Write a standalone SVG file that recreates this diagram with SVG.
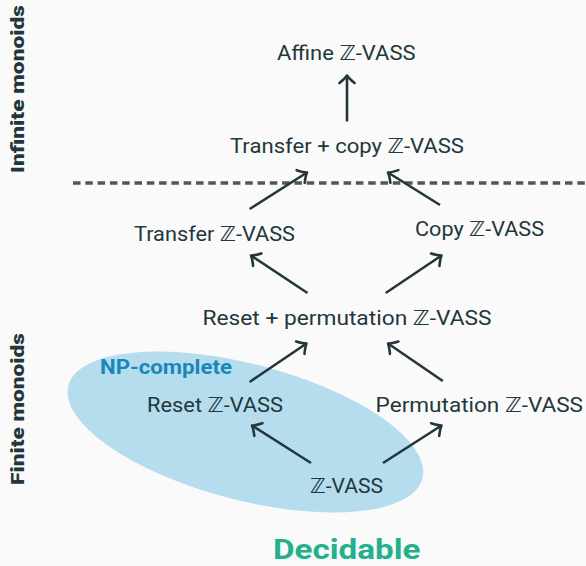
<svg xmlns="http://www.w3.org/2000/svg" width="586" height="566" viewBox="0 0 586 566">
<defs>
<style>
.n{font-family:Roboto,"DejaVu Sans",sans-serif;font-size:21px;fill:#23373b}
.side{font-family:Roboto,"DejaVu Sans",sans-serif;font-size:19px;font-weight:900;fill:#23373b}
.e{stroke:#23373b;stroke-width:2.6;fill:none;marker-end:url(#ah)}
</style>
<marker id="ah" markerUnits="userSpaceOnUse" viewBox="-10 -10 12 20" markerWidth="12" markerHeight="20" refX="0" refY="0" orient="auto">
<path d="M-7.5,-7.5 Q-3,-2 0,0 Q-3,2 -7.5,7.5" fill="none" stroke="#23373b" stroke-width="2.6" stroke-linecap="round" stroke-linejoin="round"/>
</marker>
</defs>
<rect width="586" height="566" fill="#fafafa"/>
<ellipse id="np-region" cx="245.4" cy="432" rx="183" ry="68" transform="rotate(14.7 245.4 432)" fill="#b5ddee"/>
<line x1="73" y1="183" x2="586" y2="183" stroke="#555" stroke-width="3.5" stroke-dasharray="7.5,4.8"/>
<g id="connectors">
<line class="e" x1="347" y1="121.5" x2="347" y2="75.5"/>
<line class="e" x1="249.6" y1="209" x2="307" y2="172.5"/>
<line class="e" x1="440" y1="205" x2="388" y2="172.5"/>
<line class="e" x1="307.5" y1="293" x2="251" y2="255.5"/>
<line class="e" x1="385.7" y1="293" x2="441.5" y2="255.5"/>
<line class="e" x1="249.6" y1="382" x2="306.5" y2="343.5"/>
<line class="e" x1="442.8" y1="381" x2="388" y2="343.5"/>
<line class="e" x1="311" y1="463" x2="252" y2="425.5"/>
<line class="e" x1="383" y1="463" x2="441.5" y2="425.5"/>
</g>
<g id="affine"><text class="n" x="277" y="60" textLength="138.5" lengthAdjust="spacingAndGlyphs">Affine ℤ-VASS</text></g>
<g id="transfer-copy"><text class="n" x="230" y="153" textLength="234" lengthAdjust="spacingAndGlyphs">Transfer + copy ℤ-VASS</text></g>
<g id="transfer"><text class="n" x="134" y="241" textLength="161" lengthAdjust="spacingAndGlyphs">Transfer ℤ-VASS</text></g>
<g id="copy"><text class="n" x="415" y="236" textLength="129" lengthAdjust="spacingAndGlyphs">Copy ℤ-VASS</text></g>
<g id="reset-perm"><text class="n" x="202.5" y="325" textLength="289" lengthAdjust="spacingAndGlyphs">Reset + permutation ℤ-VASS</text></g>
<g id="reset"><text class="n" x="147" y="412" textLength="136" lengthAdjust="spacingAndGlyphs">Reset ℤ-VASS</text></g>
<g id="perm"><text class="n" x="375.6" y="412" textLength="207.4" lengthAdjust="spacingAndGlyphs">Permutation ℤ-VASS</text></g>
<g id="zvass"><text class="n" x="310" y="493" textLength="73" lengthAdjust="spacingAndGlyphs">ℤ-VASS</text></g>
<text x="100" y="373.7" textLength="132" lengthAdjust="spacingAndGlyphs" font-family="Roboto, 'DejaVu Sans', sans-serif" font-size="20" font-weight="bold" fill="#1b87b9">NP-complete</text>
<text x="273" y="559" textLength="147.5" lengthAdjust="spacingAndGlyphs" font-family="Roboto, 'DejaVu Sans', sans-serif" font-size="28" font-weight="bold" fill="#23b08c">Decidable</text>
<text class="side" transform="translate(24,89) rotate(-90)" text-anchor="middle" textLength="168" lengthAdjust="spacingAndGlyphs">Infinite monoids</text>
<text class="side" transform="translate(24,409) rotate(-90)" text-anchor="middle" textLength="152" lengthAdjust="spacingAndGlyphs">Finite monoids</text>
</svg>
